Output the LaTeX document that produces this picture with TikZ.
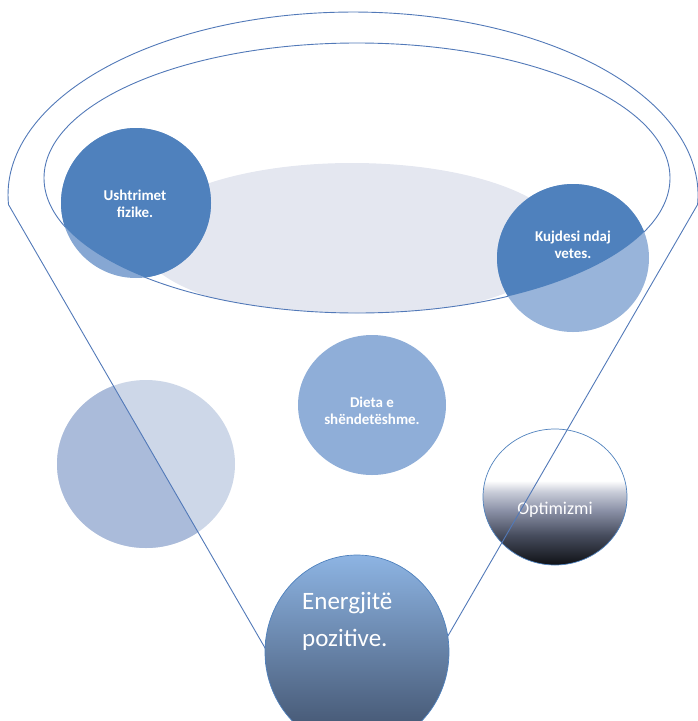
\documentclass[tikz,border=0pt]{standalone}
\usepackage{fontspec}
\setmainfont{Carlito}
\usetikzlibrary{positioning}
\definecolor{funline}{HTML}{5279B8}
\definecolor{bluedark}{HTML}{4F81BD}
\definecolor{bluelite}{HTML}{86A7D3}
\definecolor{bluemid}{HTML}{8FAED8}
\definecolor{paleblue}{HTML}{CDD7E8}
\definecolor{greyblue}{HTML}{AABBDA}
\definecolor{bowlgrey}{HTML}{E4E7F0}
\definecolor{enertop}{HTML}{8DB4E3}
\definecolor{enerbot}{HTML}{3E4E68}
\definecolor{optA}{HTML}{0F1115}
\definecolor{optB}{HTML}{474D5E}
\definecolor{optC}{HTML}{8A90A6}
\definecolor{optD}{HTML}{C9CDD9}
\pgfdeclareverticalshading{optshade}{100bp}{color(0bp)=(optA); color(25bp)=(optA);
  color(36bp)=(optB); color(45bp)=(optC); color(52bp)=(optD);
  color(56bp)=(white); color(75bp)=(white); color(100bp)=(white)}
\tikzset{
  funnel/.style  = {draw=funline, line width=0.9pt},
  lbl/.style     = {text=white, align=center, inner sep=1pt, font=\fontsize{15}{17}\selectfont\bfseries},
  biglbl/.style  = {text=white, align=left, inner sep=0pt, font=\fontsize{25}{37}\selectfont}
}
\begin{document}
\begin{tikzpicture}[x=1pt, y=-1pt]
\useasboundingbox (0,0) rectangle (697,721);
% ---------------- bowl of the funnel ----------------
\begin{scope}
  \clip (357,178) ellipse [x radius=313, y radius=135];
  \fill[bowlgrey] (352,240) ellipse [x radius=212, y radius=77];
\end{scope}
\draw[funnel] (357,178) ellipse [x radius=313, y radius=135];

% ---------------- circles in the bowl ----------------
\fill[bluelite] (136,203) ellipse [x radius=75, y radius=75];
\fill[bluelite!85!white] (573,258) ellipse [x radius=76, y radius=74];
\begin{scope}
  \clip (357,178) ellipse [x radius=313, y radius=135];
  \fill[bluedark] (136,203) ellipse [x radius=75, y radius=75];
  \fill[bluedark] (573,258) ellipse [x radius=76, y radius=74];
\end{scope}
\node[lbl] (fiz) at (135,204) {Ushtrimet\\fizike.};
\node[lbl] (vet) at (573,245) {Kujdesi ndaj\\vetes.};

% ---------------- middle circles ----------------
\fill[bluemid] (372,405) ellipse [x radius=74, y radius=70];
\node[lbl] (diet) at (372,411) {Dieta e\\shëndetëshme.};
\fill[paleblue] (146,464) ellipse [x radius=89, y radius=84];
\begin{scope}
  \clip (8.5,204.6) -- (272,660) -- (-20,660) -- cycle;
  \fill[greyblue] (146,464) ellipse [x radius=89, y radius=84];
\end{scope}

% ---------------- optimism ----------------
\shade[shading=optshade, draw=bluedark, line width=0.7pt] (555,497) ellipse [x radius=72, y radius=68];
\node[lbl, font=\fontsize{18}{20}\selectfont] (opt) at (555,510) {Optimizmi};

% ---------------- funnel outline ----------------
\draw[funnel] (272,660) -- (8.5,204.6)
  arc[start angle=177, end angle=363, x radius=345, y radius=183] -- (434,660);

% ---------------- bottom circle ----------------
\shade[top color=enertop, bottom color=enerbot, draw=bluedark, line width=0.7pt]
  (357,652) ellipse [x radius=92, y radius=97];
\node[biglbl, anchor=north west] (ener) at (302,592) {Energjitë\\pozitive.};
\end{tikzpicture}
\end{document}
